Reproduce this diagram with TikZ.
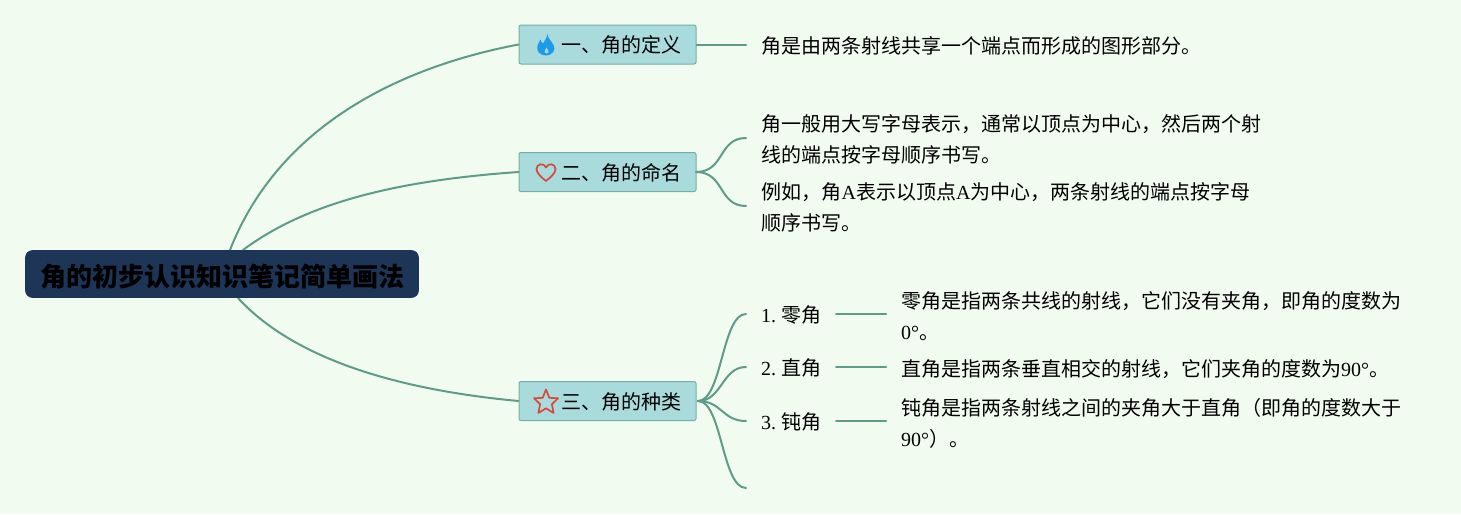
\documentclass[tikz,border=0pt]{standalone}
\usepackage{fontspec}
\setmainfont{Liberation Serif}
\newfontfamily\cjk{Noto Sans CJK SC}
\definecolor{bgc}{HTML}{F1FBEF}
\definecolor{edgec}{HTML}{5E9C89}
\definecolor{boxc}{HTML}{A9DBDD}
\definecolor{boxb}{HTML}{74AFA5}
\definecolor{rootc}{HTML}{1D3557}
\definecolor{firec}{HTML}{1E9BE8}
\definecolor{iconred}{HTML}{D9483B}
\tikzset{
  root/.style={draw=rootc,fill=rootc,rounded corners=7pt,line width=.6pt,minimum width=393pt,minimum height=47pt,inner sep=0pt},
  roottext/.style={inner sep=0pt,font=\cjk\bfseries\fontsize{26}{30}\selectfont},
  branch/.style={draw=boxb,fill=boxc,rounded corners=2pt,line width=1pt,minimum width=177pt,minimum height=39pt,inner sep=0pt},
  branchtext/.style={inner sep=0pt,anchor=west,font=\cjk\fontsize{20}{24}\selectfont},
  body/.style={inner sep=0pt,anchor=west,align=left,font=\cjk\fontsize{20}{31}\selectfont},
  link/.style={draw=edgec,line width=2pt,line cap=round},
  fireicon/.style={fill=firec,draw=none},
  lineicon/.style={draw=iconred,line width=1.7pt,fill=none,line join=round},
}
\newcommand{\lat}[1]{{\rmfamily #1}}
\begin{document}
\begin{tikzpicture}[x=1pt,y=-1pt]
\useasboundingbox (0,0) rectangle (1461,514);
\fill[bgc] (0,0) rectangle (1461,514);
\coordinate (e1) at (746,44.5);
\coordinate (e2a) at (746,138);
\coordinate (e2b) at (746,206);
\coordinate (e3a) at (746,314);
\coordinate (e3b) at (746,367);
\coordinate (e3c) at (746,421);
\coordinate (e3d) at (746,488);
\coordinate (sa) at (836,314);
\coordinate (ea) at (886,314);
\coordinate (sb) at (836,367);
\coordinate (eb) at (886,367);
\coordinate (sc) at (836,421);
\coordinate (ec) at (886,421);
\coordinate (r1) at (230,250);
\coordinate (r2) at (243,250);
\coordinate (r3) at (238,298);
\coordinate (h2) at (696,172);
\coordinate (h3) at (698,401);
\node[branch] (b1) at (607.5,44.5) {};
\node[branch] (b2) at (607.5,172) {};
\node[branch] (b3) at (607.5,401) {};
\draw[link] (r1) .. controls (275,135) and (385,70) .. (b1.west);
\draw[link] (r2) .. controls (310,200) and (405,180) .. (b2.west);
\draw[link] (r3) .. controls (295,360) and (400,390) .. (b3.west);
\draw[link] (b1.east) -- (e1);
\draw[link] (h2) .. controls (725,172) and (718,138) .. (e2a);
\draw[link] (h2) .. controls (725,172) and (718,206) .. (e2b);
\draw[link] (h3) .. controls (722,401) and (722,314) .. (e3a);
\draw[link] (h3) .. controls (722,401) and (722,367) .. (e3b);
\draw[link] (h3) .. controls (722,401) and (722,421) .. (e3c);
\draw[link] (h3) .. controls (722,401) and (722,488) .. (e3d);
\draw[link] (sa) -- (ea);
\draw[link] (sb) -- (eb);
\draw[link] (sc) -- (ec);
\node[root] (rootn) at (222,274) {};
\node[roottext] (roott) at (222.5,277) {角的初步认识知识笔记简单画法};
\node[branchtext] (t1) at (561,45) {一、角的定义};
\node[branchtext] (t2) at (561,173) {二、角的命名};
\node[branchtext] (t3) at (561,402) {三、角的种类};
% flame
\fill[fireicon,even odd rule] (547.5,34) .. controls (548,39) and (551,40) .. (553.5,45) .. controls (556.5,50) and (552,55.5) .. (546,55.5) .. controls (540,55.5) and (536,51) .. (537.5,46) .. controls (538,43.5) and (539.5,41.5) .. (540.5,39.5) .. controls (541,41.5) and (541.5,42.5) .. (543,43.5) .. controls (544.5,40.5) and (547,38) .. (547.5,34) -- cycle
 (546.5,47) .. controls (546,49) and (544.5,50) .. (544.5,51.5) .. controls (544.5,52.8) and (545.5,53.5) .. (546.5,53.5) .. controls (548,53.5) and (549,52.3) .. (548.6,51) .. controls (548.2,49.8) and (547,48.8) .. (546.5,47) -- cycle;
% heart
\draw[lineicon] (546,181) .. controls (541,177) and (536.5,173) .. (536.5,169) .. controls (536.5,163.5) and (544,162.5) .. (546,167.5) .. controls (548,162.5) and (555.5,163.5) .. (555.5,169) .. controls (555.5,173) and (551,177) .. (546,181) -- cycle;
% star
\draw[lineicon] (546,389.5) -- (549.3,397.8) -- (558,398.3) -- (551.9,404.2) -- (553.6,413) -- (546,408.3) -- (538.4,413) -- (540.1,404.2) -- (534,398.3) -- (542.7,397.8) -- cycle;
\node[body] (d1) at (761.5,45.5) {角是由两条射线共享一个端点而形成的图形部分。};
\node[body] (d2) at (761.5,139.5) {角一般用大写字母表示，通常以顶点为中心，然后两个射\\线的端点按字母顺序书写。};
\node[body] (d3) at (761.5,207.5) {例如，角\lat{A}表示以顶点\lat{A}为中心，两条射线的端点按字母\\顺序书写。};
\node[body] (i1) at (761,315) {\lat{1.}\hspace{5pt}零角};
\node[body] (i2) at (761,368) {\lat{2.}\hspace{5pt}直角};
\node[body] (i3) at (761,422) {\lat{3.}\hspace{5pt}钝角};
\node[body] (x1) at (901,316) {零角是指两条共线的射线，它们没有夹角，即角的度数为\\\lat{0°}。};
\node[body] (x2) at (901,369) {直角是指两条垂直相交的射线，它们夹角的度数为\lat{90°}。};
\node[body] (x3) at (901,423) {钝角是指两条射线之间的夹角大于直角（即角的度数大于\\\lat{90°}）。};
\end{tikzpicture}
\end{document}
